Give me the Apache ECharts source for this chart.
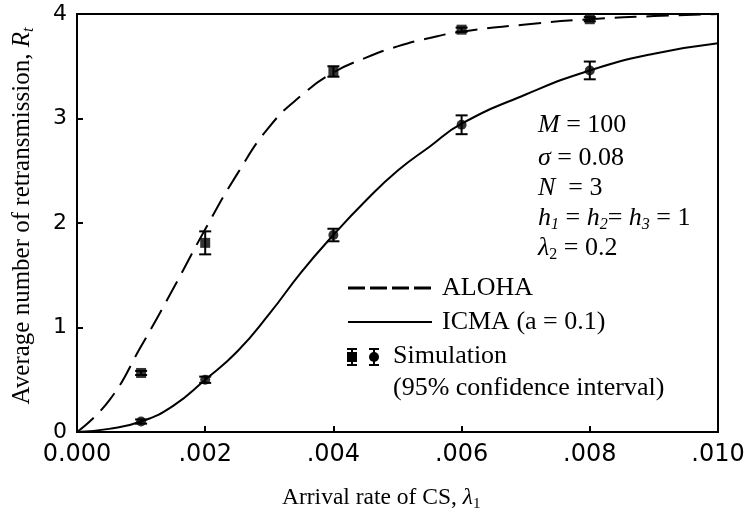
<!DOCTYPE html>
<html>
<head>
<meta charset="utf-8">
<script src="https://cdn.jsdelivr.net/npm/echarts@6/dist/echarts.min.js"></script>
<style>
  html, body { margin: 0; padding: 0; background: #fff; }
  #chart { width: 751px; height: 513px; }
</style>
</head>
<body>
<div id="chart"></div>
<script>
// Analytical curves, sampled along the arrival rate of CS
const curveX     = [0, 0.0005, 0.001, 0.0015, 0.002, 0.0025, 0.003, 0.0035, 0.004, 0.0045, 0.005, 0.0055, 0.006, 0.007, 0.008, 0.009, 0.010];
const alohaCurve = [0, 0.30, 0.82, 1.37, 1.94, 2.47, 2.92, 3.22, 3.44, 3.58, 3.69, 3.77, 3.83, 3.90, 3.95, 3.98, 4.00];
const icmaCurve  = [0, 0.03, 0.10, 0.25, 0.50, 0.77, 1.13, 1.53, 1.885, 2.21, 2.50, 2.73, 2.95, 3.23, 3.46, 3.62, 3.72];

// Simulation results with 95% confidence half-widths
const simX     = [0.001, 0.002, 0.004, 0.006, 0.008];
const alohaSim = [0.565, 1.81, 3.45, 3.85, 3.95];
const alohaErr = [0.02, 0.11, 0.05, 0.02, 0.02];
const icmaSim  = [0.10, 0.50, 1.885, 2.94, 3.46];
const icmaErr  = [0.02, 0.03, 0.06, 0.09, 0.085];

// Tick labels
const xTicks = ['0.000', '.002', '.004', '.006', '.008', '.010'];
const yTicks = ['0', '1', '2', '3', '4'];

const SERIF = '"Liberation Serif", "Times New Roman", serif';
const SANS = '"DejaVu Sans", sans-serif';

const pairs = (xs, ys) => xs.map((x, i) => [x, ys[i]]);

function errorBars(vals, errs) {
  return {
    type: 'custom',
    silent: true,
    z: 4,
    renderItem: (params, api) => {
      const x = api.value(0);
      const lo = api.coord([x, api.value(1)]);
      const hi = api.coord([x, api.value(2)]);
      const w = 6;
      const st = { stroke: '#000', lineWidth: 2 };
      return {
        type: 'group',
        children: [
          { type: 'line', shape: { x1: lo[0], y1: lo[1], x2: hi[0], y2: hi[1] }, style: st },
          { type: 'line', shape: { x1: lo[0] - w, y1: lo[1], x2: lo[0] + w, y2: lo[1] }, style: st },
          { type: 'line', shape: { x1: hi[0] - w, y1: hi[1], x2: hi[0] + w, y2: hi[1] }, style: st }
        ]
      };
    },
    data: simX.map((x, i) => [x, vals[i] - errs[i], vals[i] + errs[i]])
  };
}

function makeRich(size) {
  const sub = Math.round(size * 0.62);
  return {
    r: { fontFamily: SERIF, fontSize: size, color: '#000', lineHeight: size + 4 },
    i: { fontFamily: SERIF, fontSize: size, fontStyle: 'italic', color: '#000', lineHeight: size + 4 },
    s: { fontFamily: SERIF, fontSize: sub, fontStyle: 'italic', color: '#000', verticalAlign: 'bottom', lineHeight: sub - 1 },
    n: { fontFamily: SERIF, fontSize: sub, color: '#000', verticalAlign: 'bottom', lineHeight: sub - 1 }
  };
}

function label(x, y, text, size, extra) {
  return Object.assign({
    type: 'text', x: x, y: y, silent: true,
    style: { text: text, rich: makeRich(size), fontFamily: SERIF, fontSize: size, fill: '#000',
             align: 'left', verticalAlign: 'middle' }
  }, extra || {});
}

// Legend marks
function legendBar(cx, cy) {
  const st = { stroke: '#000', lineWidth: 2 };
  return [
    { type: 'line', silent: true, shape: { x1: cx, y1: cy - 8, x2: cx, y2: cy + 8 }, style: st },
    { type: 'line', silent: true, shape: { x1: cx - 5, y1: cy - 8, x2: cx + 5, y2: cy - 8 }, style: st },
    { type: 'line', silent: true, shape: { x1: cx - 5, y1: cy + 8, x2: cx + 5, y2: cy + 8 }, style: st }
  ];
}

const yTitle = label(22, 216, 'Average number of retransmission, {i|R}{s|t}', 25, { rotation: Math.PI / 2 });
yTitle.style.align = 'center';

const chart = echarts.init(document.getElementById('chart'), null, { renderer: 'canvas' });

chart.setOption({
  animation: false,
  backgroundColor: '#fff',
  grid: { left: 77, right: 33, top: 14, bottom: 81, show: true, borderColor: '#000', borderWidth: 2 },
  xAxis: {
    type: 'value', min: 0, max: 0.01, interval: 0.002,
    axisLine: { lineStyle: { color: '#000', width: 2 } },
    axisTick: { inside: true, length: 6, lineStyle: { color: '#000', width: 2 } },
    splitLine: { show: false },
    axisLabel: {
      margin: 11, color: '#000', fontFamily: SANS, fontSize: 24,
      formatter: v => xTicks[Math.round(v / 0.002)]
    }
  },
  yAxis: {
    type: 'value', min: 0, max: 4, interval: 1,
    axisLine: { lineStyle: { color: '#000', width: 2 } },
    axisTick: { inside: true, length: 6, lineStyle: { color: '#000', width: 2 } },
    splitLine: { show: false },
    axisLabel: {
      margin: 10, color: '#000', fontFamily: SANS, fontSize: 22,
      formatter: v => yTicks[Math.round(v)]
    }
  },
  series: [
    {
      name: 'ALOHA', type: 'line', data: pairs(curveX, alohaCurve),
      smooth: 0.5, symbol: 'none',
      lineStyle: { color: '#000', width: 2, type: [22, 10] }
    },
    {
      name: 'ICMA (a = 0.1)', type: 'line', data: pairs(curveX, icmaCurve),
      smooth: 0.5, symbol: 'none',
      lineStyle: { color: '#000', width: 2 }
    },
    errorBars(alohaSim, alohaErr),
    errorBars(icmaSim, icmaErr),
    {
      name: 'ALOHA simulation', type: 'scatter', data: pairs(simX, alohaSim),
      symbol: 'rect', symbolSize: 10, itemStyle: { color: '#000' }, z: 5
    },
    {
      name: 'ICMA simulation', type: 'scatter', data: pairs(simX, icmaSim),
      symbol: 'circle', symbolSize: 10, itemStyle: { color: '#000' }, z: 5
    }
  ],
  graphic: [
    // axis titles
    yTitle,
    label(282, 498, 'Arrival rate of CS, {i|λ}{n|1}', 23.5),
    // parameter block
    label(538, 125, '{i|M} = 100', 26),
    label(538, 158, '{i|σ} = 0.08', 26),
    label(538, 188, '{i|N}  = 3', 26),
    label(538, 218, '{i|h}{s|1} = {i|h}{s|2}= {i|h}{s|3} = 1', 26),
    label(538, 248, '{i|λ}{n|2} = 0.2', 26),
    // legend
    { type: 'line', silent: true, shape: { x1: 348, y1: 288, x2: 432, y2: 288 },
      style: { stroke: '#000', lineWidth: 3, lineDash: [17, 5] } },
    label(442, 288, 'ALOHA', 26),
    { type: 'line', silent: true, shape: { x1: 348, y1: 322, x2: 432, y2: 322 },
      style: { stroke: '#000', lineWidth: 2 } },
    label(442, 322, 'ICMA (a = 0.1)', 26),
    ...legendBar(352, 357),
    { type: 'rect', silent: true, shape: { x: 347, y: 352, width: 10, height: 10 }, style: { fill: '#000' } },
    ...legendBar(374, 357),
    { type: 'circle', silent: true, shape: { cx: 374, cy: 357, r: 5 }, style: { fill: '#000' } },
    label(393, 356, 'Simulation', 26),
    label(393, 388, '(95% confidence interval)', 26)
  ]
});
</script>
</body>
</html>
